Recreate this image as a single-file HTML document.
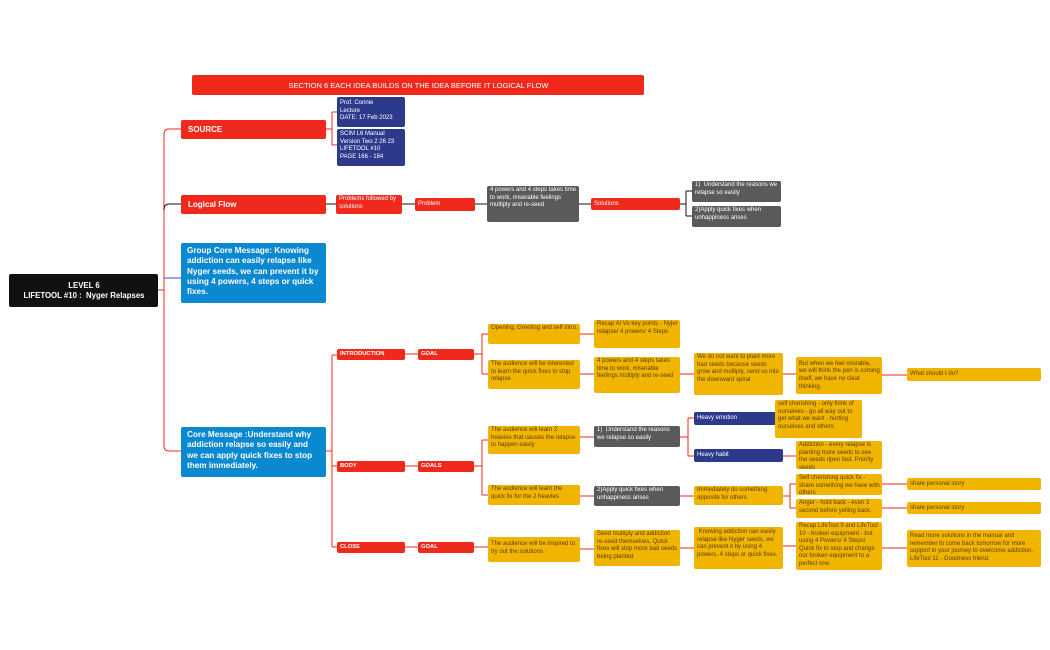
<!DOCTYPE html>
<html><head><meta charset="utf-8"><style>
body{margin:0;width:1050px;height:650px;background:#fff;position:relative;overflow:hidden;font-family:"Liberation Sans",sans-serif}
.n{position:absolute;box-sizing:border-box;border-radius:2px;font-size:6px;line-height:7.6px;padding:1px 2px 0 3px;overflow:hidden}
.r{background:#ef2a1c;color:#fff}
.k{background:#111;color:#fff}
.v{background:#2d3a8c;color:#fff}
.g{background:#5a5a5a;color:#fff}
.b{background:#0a88d0;color:#fff;font-weight:bold;font-size:8.2px;line-height:10.3px;padding:3px 6px}
.y{background:#f1b500;color:#5a3d00}
.c{display:flex;align-items:center}
.bold{font-weight:bold}
svg{position:absolute;left:0;top:0}
</style></head><body>
<svg width="1050" height="650" fill="none" stroke-width="1">
<path d="M158 290 H164" stroke="#ef2a1c"/>
<path d="M164 290 V134 Q164 129 169 129 H181" stroke="#ef2a1c"/>
<path d="M164 210 Q164 204 169 204 H181" stroke="#111"/>
<path d="M164 278 H181" stroke="#3a4ad0"/>
<path d="M164 290 V446 Q164 451 169 451 H181" stroke="#ef2a1c"/>
<path d="M326 129 H332 M332 112 V145 M332 112 H337 M332 145 H337" stroke="#ef2a1c"/>
<path d="M326 204 H336 M402 204 H415 M475 204 H487 M579 204 H591 M680 204 H686 M686 191 V216 M686 191 H692 M686 216 H692" stroke="#111"/>
<path d="M326 451 H332 M332 355 V547 M332 355 H337 M332 466 H337 M332 547 H337" stroke="#ef2a1c"/>
<path d="M405 354 H418 M474 354 H482 M482 334 V374 M482 334 H488 M482 374 H488 M580 334 H594 M580 374 H594 M680 374 H694 M783 374 H796 M882 375 H907" stroke="#ef2a1c"/>
<path d="M405 466 H418 M474 466 H482 M482 440 V495 M482 440 H488 M482 495 H488 M580 437 H594 M680 437 H688 M688 418 V456 M688 418 H694 M688 456 H694 M783 418 H775 M783 456 H796 M580 496 H594 M680 496 H694 M783 496 H790 M790 484 V508 M790 484 H796 M790 508 H796 M882 484 H907 M882 508 H907" stroke="#ef2a1c"/>
<path d="M405 547 H418 M474 547 H488 M580 549 H594 M680 548 H694 M783 546 H796 M882 548 H907" stroke="#ef2a1c"/>
</svg>
<div class="n r c" style="left:192px;top:75px;width:452px;height:20px;justify-content:center;font-size:7.5px">SECTION 6 EACH IDEA BUILDS ON THE IDEA BEFORE IT LOGICAL FLOW</div>
<div class="n k c bold" style="left:9px;top:274px;width:149px;height:33px;justify-content:center;text-align:center;font-size:7.8px;line-height:10px">LEVEL 6<br>LIFETOOL #10 :&nbsp; Nyger Relapses</div>
<div class="n r c bold" style="left:181px;top:120px;width:145px;height:19px;font-size:8px;padding-left:7px">SOURCE</div>
<div class="n v" style="left:337px;top:97px;width:68px;height:30px;padding-top:3px">Prof. Connie<br>Lecture<br>DATE: 17 Feb 2023</div>
<div class="n v" style="left:337px;top:129px;width:68px;height:37px;padding-top:2px">SCIM L6 Manual<br>Version Two 2 26 23<br>LIFETOOL #10<br>PAGE 166 - 184</div>
<div class="n r c bold" style="left:181px;top:195px;width:145px;height:19px;font-size:8px;padding-left:7px">Logical Flow</div>
<div class="n r" style="left:336px;top:195px;width:66px;height:19px">Problems followed by solutions</div>
<div class="n r c" style="left:415px;top:198px;width:60px;height:13px">Problem</div>
<div class="n g" style="left:487px;top:186px;width:92px;height:36px">4 powers and 4 steps takes time to work, miserable feelings multiply and re-seed</div>
<div class="n r c" style="left:591px;top:198px;width:89px;height:12px">Solutions</div>
<div class="n g" style="left:692px;top:181px;width:89px;height:21px">1)&nbsp; Understand the reasons we relapse so easily</div>
<div class="n g" style="left:692px;top:206px;width:89px;height:21px">2)Apply quick fixes when unhappiness arises</div>
<div class="n b" style="left:181px;top:243px;width:145px;height:60px">Group Core Message: Knowing addiction can easily relapse like Nyger seeds, we can prevent it by using 4 powers, 4 steps or quick fixes.</div>
<div class="n b" style="left:181px;top:427px;width:145px;height:50px">Core Message :Understand why addiction relapse so easily and we can apply quick fixes to stop them immediately.</div>
<div class="n r c bold" style="left:337px;top:349px;width:68px;height:11px;font-size:5.8px">INTRODUCTION</div>
<div class="n r c bold" style="left:418px;top:349px;width:56px;height:11px;font-size:5.8px">GOAL</div>
<div class="n y" style="left:488px;top:324px;width:92px;height:20px">Opening, Greeting and self intro.</div>
<div class="n y" style="left:594px;top:320px;width:86px;height:28px">Recap Ai Vo key points - Nyjer relapse/ 4 powers/ 4 Steps</div>
<div class="n y" style="left:488px;top:360px;width:92px;height:29px">The audience will be interested to learn the quick fixes to stop relapse</div>
<div class="n y" style="left:594px;top:357px;width:86px;height:36px">4 powers and 4 steps takes time to work, miserable feelings multiply and re-seed</div>
<div class="n y" style="left:694px;top:353px;width:89px;height:42px">We do not want to plant more bad seeds because seeds grow and multiply, send us into the downward spiral</div>
<div class="n y c" style="left:796px;top:357px;width:86px;height:37px">But when we feel misrable, we will think the pen is coming itself, we have no clear thinking.</div>
<div class="n y c" style="left:907px;top:368px;width:134px;height:13px">What should I do?</div>
<div class="n r c bold" style="left:337px;top:461px;width:68px;height:11px;font-size:5.8px">BODY</div>
<div class="n r c bold" style="left:418px;top:461px;width:56px;height:11px;font-size:5.8px">GOALS</div>
<div class="n y" style="left:488px;top:426px;width:92px;height:28px">The audience will learn 2 heavies that causes the relapse to happen easily</div>
<div class="n g" style="left:594px;top:426px;width:86px;height:21px">1)&nbsp; Understand the reasons we relapse so easily</div>
<div class="n v c" style="left:694px;top:412px;width:89px;height:13px">Heavy emotion</div>
<div class="n y" style="left:775px;top:400px;width:87px;height:38px">self cherishing - only think of ourselves - go all way out to get what we want - hurting ourselves and others</div>
<div class="n v c" style="left:694px;top:449px;width:89px;height:13px">Heavy habit</div>
<div class="n y" style="left:796px;top:441px;width:86px;height:28px">Addiction - every relapse is planting more seeds to see the seeds ripen fast. Priority seeds</div>
<div class="n y" style="left:488px;top:485px;width:92px;height:20px">The audience will learn the quick fix for the 2 heavies</div>
<div class="n g" style="left:594px;top:486px;width:86px;height:20px">2)Apply quick fixes when unhappiness arises</div>
<div class="n y" style="left:694px;top:486px;width:89px;height:19px">Immediately do something opposite for others</div>
<div class="n y" style="left:796px;top:474px;width:86px;height:21px">Self cherishing quick fix - share something we have with others</div>
<div class="n y" style="left:796px;top:499px;width:86px;height:19px">Anger - hold back - even 3 second before yelling back.</div>
<div class="n y c" style="left:907px;top:478px;width:134px;height:12px">share personal story</div>
<div class="n y c" style="left:907px;top:502px;width:134px;height:12px">share personal story</div>
<div class="n r c bold" style="left:337px;top:542px;width:68px;height:11px;font-size:5.8px">CLOSE</div>
<div class="n r c bold" style="left:418px;top:542px;width:56px;height:11px;font-size:5.8px">GOAL</div>
<div class="n y" style="left:488px;top:537px;width:92px;height:25px;padding-top:4px">The audience will be inspired to try out the solutions</div>
<div class="n y" style="left:594px;top:530px;width:86px;height:36px">Seed multiply and addiction re-seed themselves. Quick fixes will stop more bad seeds being planted.</div>
<div class="n y" style="left:694px;top:527px;width:89px;height:42px;padding-top:2px">&nbsp;Knowing addiction can easily relapse like Nyger seeds, we can prevent it by using 4 powers, 4 steps or quick fixes.</div>
<div class="n y" style="left:796px;top:522px;width:86px;height:48px">Recap LifeTool 9 and LifeTool 10 - broken equipment - but using 4 Powers/ 4 Steps/ Quick fix to stop and change our broken equipment to a perfect one.</div>
<div class="n y" style="left:907px;top:530px;width:134px;height:37px;padding-top:3px">Read more solutions in the manual and remember to come back tomorrow for more support in your journey to overcome addiction. LifeTool 11 - Goodness friend.</div>
</body></html>
